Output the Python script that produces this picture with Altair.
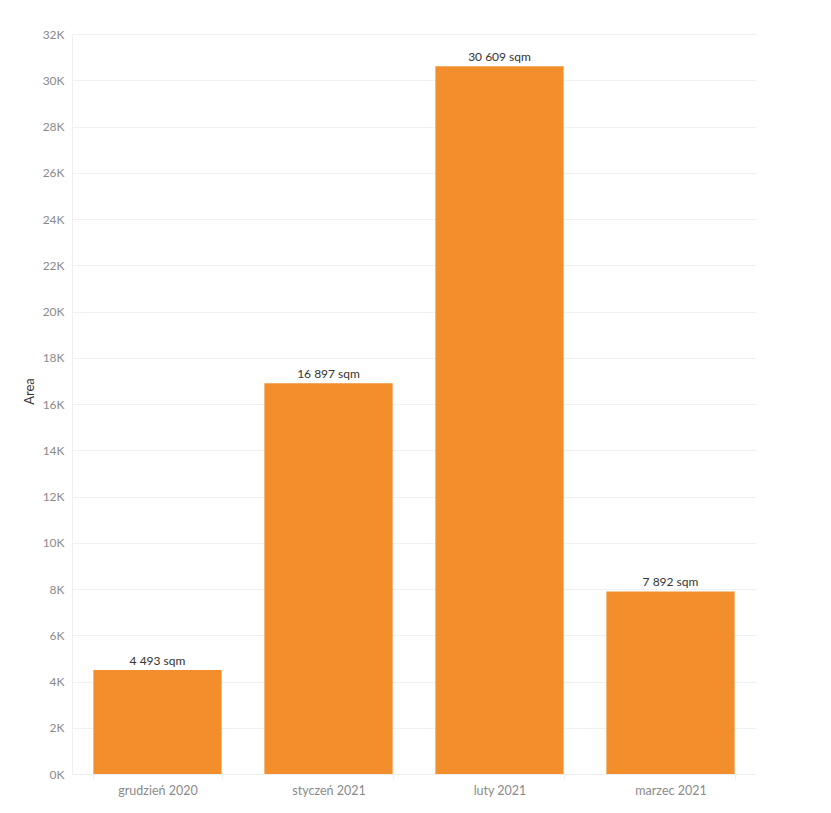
import altair as alt
import pandas as pd

months = ["grudzień 2020", "styczeń 2021", "luty 2021", "marzec 2021"]
areas = [4493, 16897, 30609, 7892]

df = pd.DataFrame({"month": months, "area": areas})
df["label"] = [f"{v:,}".replace(",", " ") + " sqm" for v in areas]

FONT = "Lato"

base = alt.Chart(df).encode(
    x=alt.X("month:N", sort=months, title=None,
            scale=alt.Scale(paddingInner=0.25, paddingOuter=0.125),
            axis=alt.Axis(labelAngle=0, tickBand="extent", labelFontSize=12.5,
                          labelColor="#8a8a8a", labelFont=FONT, labelPadding=5,
                          domainColor="#eeeeee", tickColor="#eeeeee", tickSize=5,
                          grid=False)),
    y=alt.Y("area:Q", title="Area",
            scale=alt.Scale(domain=[0, 32000], nice=False),
            axis=alt.Axis(values=list(range(0, 32001, 2000)),
                          labelExpr="(datum.value/1000) + 'K'",
                          labelFontSize=12, labelColor="#8a8a8a", labelFont=FONT,
                          labelPadding=8, ticks=False,
                          domainColor="#eeeeee", gridColor="#f0f0f0",
                          titleFont=FONT, titleFontSize=13, titleFontWeight="normal",
                          titleColor="#333333", titlePadding=6, titleY=357)),
)

bars = base.mark_bar(color="#f28e2b")
text = base.mark_text(dy=-9, fontSize=12, font=FONT, color="#333333").encode(text="label:N")

chart = (bars + text).properties(
    width=684, height=740,
    padding={"left": 72, "top": 34, "right": 75, "bottom": 39},
    autosize=alt.AutoSizeParams(type="none"),
).configure_view(stroke=None)

chart.save("out.html", embed_options={"renderer": "svg", "actions": False})
